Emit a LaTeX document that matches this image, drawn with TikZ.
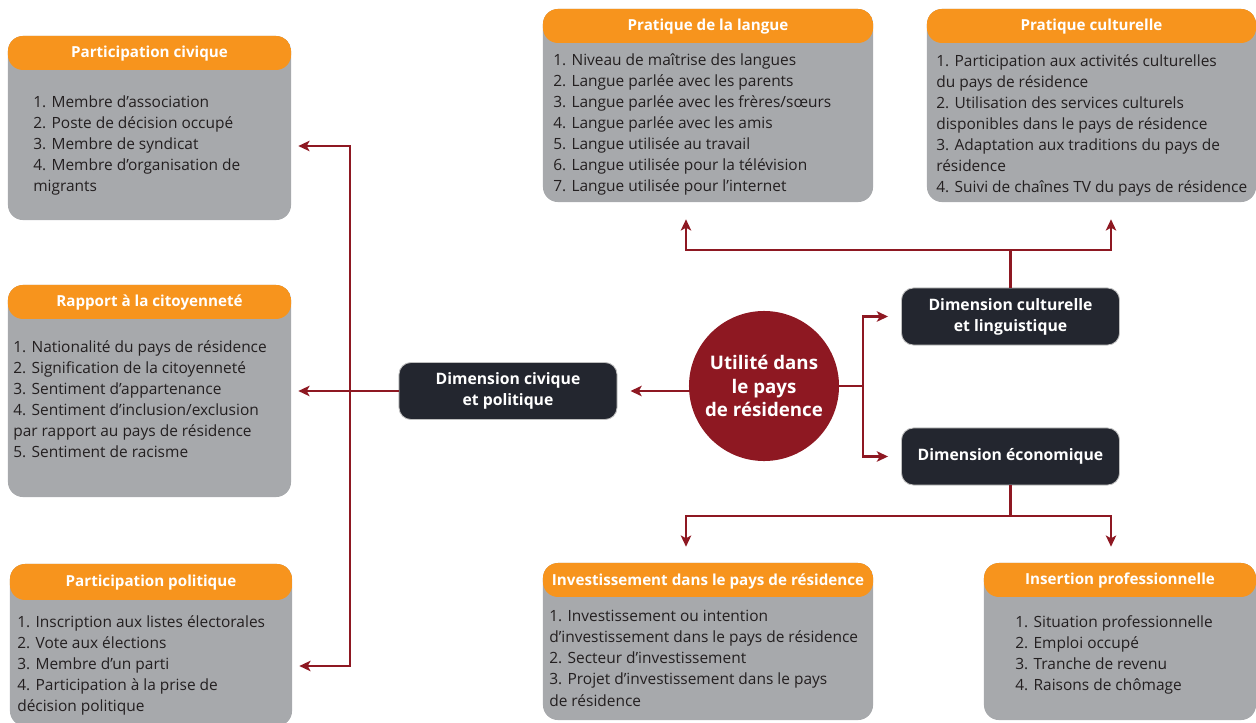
\documentclass[tikz,border=0pt]{standalone}
\usepackage{fontspec}
\setmainfont{Open Sans}
\usetikzlibrary{arrows.meta, calc}
\definecolor{head}{RGB}{247, 148, 29}
\definecolor{panel}{RGB}{167, 169, 172}
\definecolor{dim}{RGB}{35, 38, 47}
\definecolor{wine}{RGB}{142, 24, 34}
\definecolor{ink}{RGB}{35, 31, 32}

\begin{document}
\begin{tikzpicture}[
    x=0.025cm, y=-0.025cm,
    >=Stealth,
    panelbox/.style={
        rectangle, rounded corners=3.75mm,
        fill=panel, inner sep=0pt,
        path picture={\fill[head] (path picture bounding box.north west)
            rectangle ([yshift=-#1]path picture bounding box.north east);},
    },
    panelbox/.default=8.5mm,
    paneltitle/.style={
        font=\bfseries\fontsize{10.8}{12}\selectfont, text=white,
    },
    itemlist/.style={
        anchor=north west, align=left, inner sep=0pt, text=ink,
        font=\fontsize{11}{15}\selectfont,
        execute at begin node=\strut,
    },
    dimbox/.style={
        rectangle, rounded corners=3mm,
        fill=dim, draw=black!25, line width=0.6pt,
        minimum width=5.45cm, minimum height=1.425cm,
        align=center, text=white,
        font=\bfseries\fontsize{11.2}{14.9}\selectfont,
    },
    core/.style={
        circle, fill=wine, minimum size=3.75cm, inner sep=0pt,
        align=center, text=white,
        font=\bfseries\fontsize{13.3}{17}\selectfont,
    },
    link/.style={draw=wine, line width=2.1pt},
    flow/.style={link, -{Stealth[length=2.8mm, width=2.6mm, inset=0.7mm]}},
    flowboth/.style={link,
        {Stealth[length=2.8mm, width=2.6mm, inset=0.7mm]}-{Stealth[length=2.8mm, width=2.6mm, inset=0.7mm]}},
]
\useasboundingbox (0, 0) rectangle (1256, 723);

% =============== Centre ===============
\node[core] (util) at (764, 386) {Utilité dans\\le pays\\de résidence};
\node[dimbox] (dcp)  at (508, 391)    {Dimension civique\\et politique};
\node[dimbox] (dcl)  at (1010.5, 316.5) {Dimension culturelle\\et linguistique};
\node[dimbox] (deco) at (1010.5, 456.5) {Dimension économique};

% =============== Left panels ===============
\node[panelbox, minimum width=7.075cm, minimum height=4.6cm] (civ) at (149.5, 128) {};
\node[paneltitle] (civ-title) at (149.5, 54) {Participation civique};
\node[itemlist] (civ-body) at (33, 95)
    {1. Membre d’association\\2. Poste de décision occupé\\3. Membre de syndicat\\4. Membre d’organisation de\\migrants};

\node[panelbox, minimum width=7.075cm, minimum height=5.3cm] (rap) at (149.5, 391) {};
\node[paneltitle] (rap-title) at (149.5, 303) {Rapport à la citoyenneté};
\node[itemlist] (rap-body) at (13, 340)
    {1. Nationalité du pays de résidence\\2. Signification de la citoyenneté\\3. Sentiment d’appartenance\\4. Sentiment d’inclusion/exclusion\\par rapport au pays de résidence\\5. Sentiment de racisme};

\node[panelbox=9mm, minimum width=7.05cm, minimum height=4.05cm] (pol) at (151, 645) {};
\node[paneltitle] (pol-title) at (151, 583) {Participation politique};
\node[itemlist] (pol-body) at (17, 615)
    {1. Inscription aux listes électorales\\2. Vote aux élections\\3. Membre d’un parti\\4. Participation à la prise de\\décision politique};

% =============== Top panels ===============
\node[panelbox, minimum width=8.25cm, minimum height=4.825cm] (lang) at (708, 105.5) {};
\node[paneltitle] (lang-title) at (708, 27) {Pratique de la langue};
\node[itemlist] (lang-body) at (553, 53)
    {1. Niveau de maîtrise des langues\\2. Langue parlée avec les parents\\3. Langue parlée avec les frères/sœurs\\4. Langue parlée avec les amis\\5. Langue utilisée au travail\\6. Langue utilisée pour la télévision\\7. Langue utilisée pour l’internet};

\node[panelbox, minimum width=8.225cm, minimum height=4.825cm] (cult) at (1091.5, 105.5) {};
\node[paneltitle] (cult-title) at (1091.5, 27) {Pratique culturelle};
\node[itemlist] (cult-body) at (936, 54)
    {1. Participation aux activités culturelles\\du pays de résidence\\2. Utilisation des services culturels\\disponibles dans le pays de résidence\\3. Adaptation aux traditions du pays de\\résidence\\4. Suivi de chaînes TV du pays de résidence};

% =============== Bottom panels ===============
\node[panelbox, minimum width=8.25cm, minimum height=3.925cm] (inv) at (708, 641.5) {};
\node[paneltitle] (inv-title) at (708, 581) {Investissement dans le pays de résidence};
\node[itemlist] (inv-body) at (549, 610)
    {1. Investissement ou intention\\d’investissement dans le pays de résidence\\2. Secteur d’investissement\\3. Projet d’investissement dans le pays\\de résidence};

\node[panelbox, minimum width=6.8cm, minimum height=3.925cm] (ins) at (1120, 641.5) {};
\node[paneltitle] (ins-title) at (1120, 581) {Insertion professionnelle};
\node[itemlist] (ins-body) at (1015, 615)
    {1. Situation professionnelle\\2. Emploi occupé\\3. Tranche de revenu\\4. Raisons de chômage};

% =============== Junction points ===============
\coordinate (spineT) at (350, 146);
\coordinate (spineB) at (350, 666);
\coordinate (fork)   at (863, 386);
\coordinate (barTL)  at (686, 250);
\coordinate (barTR)  at (1111, 250);
\coordinate (barBL)  at (686, 516);
\coordinate (barBR)  at (1111, 516);

% =============== Connectors ===============
% civic side
\draw[flow, shorten >=3.25mm] (util.west |- dcp.east) -- (dcp.east);
\draw[flow, shorten >=1.75mm] (dcp.west) -- (rap.east);
\draw[flowboth, shorten <=1.75mm, shorten >=1.75mm]
    (spineT -| civ.east) -- (spineT) -- (spineB) -- (spineB -| pol.east);

% cultural / economic fork
\draw[link] (util.east) -- (fork);
\draw[flowboth, shorten <=3.25mm, shorten >=3.25mm]
    (dcl.west) -- (fork |- dcl.west) -- (fork |- deco.west) -- (deco.west);

% up to the culture panels
\draw[link] (dcl.north) -- (dcl.north |- barTL);
\draw[flowboth, shorten <=4.25mm, shorten >=4.25mm]
    (barTL |- lang.south) -- (barTL) -- (barTR) -- (barTR |- cult.south);

% down to the economic panels
\draw[link] (deco.south) -- (deco.south |- barBL);
\draw[flowboth, shorten <=4mm, shorten >=4mm]
    (barBL |- inv.north) -- (barBL) -- (barBR) -- (barBR |- ins.north);

\end{tikzpicture}
\end{document}
